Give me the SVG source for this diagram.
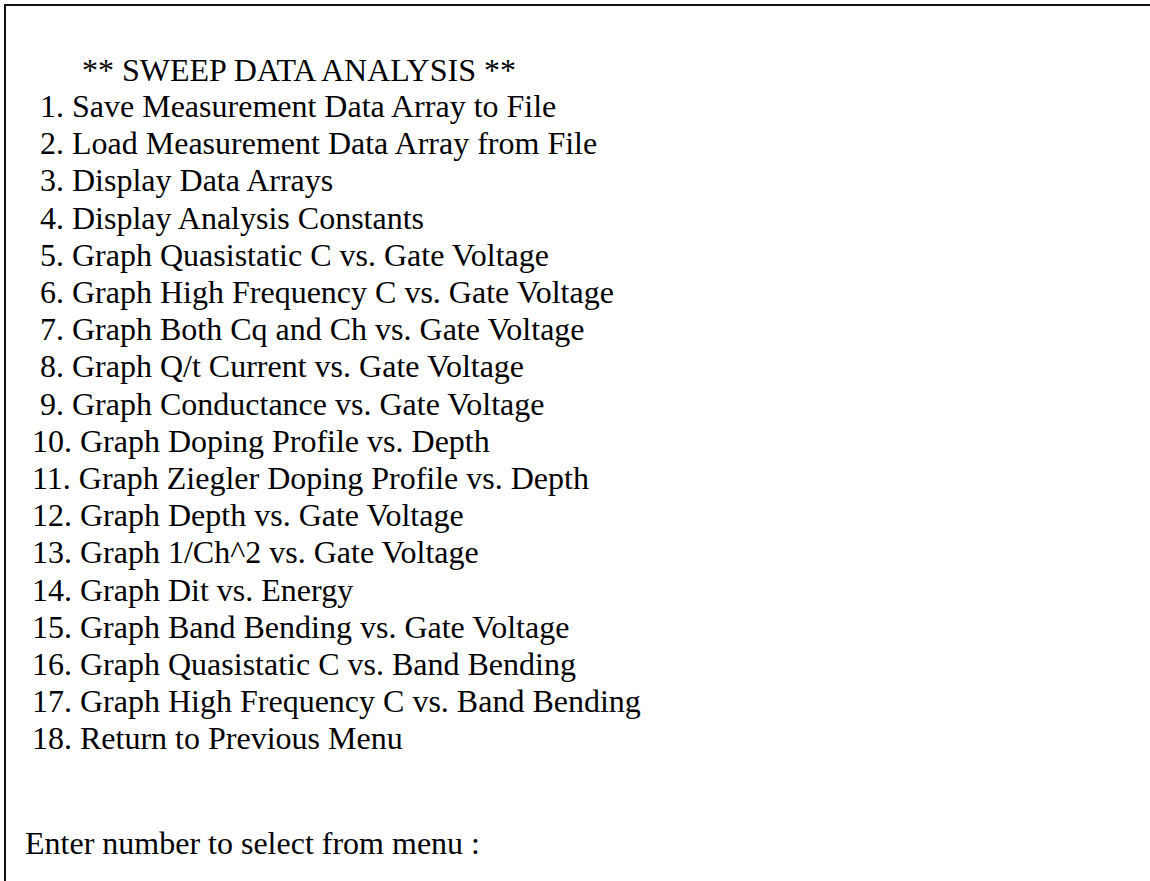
<svg xmlns="http://www.w3.org/2000/svg" width="1150" height="881" viewBox="0 0 1150 881">
<style>
.t{font-family:"Liberation Serif","Times New Roman",serif;font-size:32px;fill:#000}
.frame{fill:none;stroke:#111;stroke-width:2}
</style>
<rect width="1150" height="881" fill="#fff"/>
<g id="frame"><path class="frame" d="M5,881 V5 H1150"/></g>
<g id="title"><text class="t" x="82" y="81">** SWEEP DATA ANALYSIS **</text></g>
<g id="menu">
<text class="t" x="40" y="117">1. Save Measurement Data Array to File</text>
<text class="t" x="40" y="154.2">2. Load Measurement Data Array from File</text>
<text class="t" x="40" y="191.4">3. Display Data Arrays</text>
<text class="t" x="40" y="228.6">4. Display Analysis Constants</text>
<text class="t" x="40" y="265.8">5. Graph Quasistatic C vs. Gate Voltage</text>
<text class="t" x="40" y="303">6. Graph High Frequency C vs. Gate Voltage</text>
<text class="t" x="40" y="340.2">7. Graph Both Cq and Ch vs. Gate Voltage</text>
<text class="t" x="40" y="377.4">8. Graph Q/t Current vs. Gate Voltage</text>
<text class="t" x="40" y="414.6">9. Graph Conductance vs. Gate Voltage</text>
<text class="t" x="32" y="451.8">10. Graph Doping Profile vs. Depth</text>
<text class="t" x="32" y="489">11. Graph Ziegler Doping Profile vs. Depth</text>
<text class="t" x="32" y="526.2">12. Graph Depth vs. Gate Voltage</text>
<text class="t" x="32" y="563.4">13. Graph 1/Ch^2 vs. Gate Voltage</text>
<text class="t" x="32" y="600.6">14. Graph Dit vs. Energy</text>
<text class="t" x="32" y="637.8">15. Graph Band Bending vs. Gate Voltage</text>
<text class="t" x="32" y="675">16. Graph Quasistatic C vs. Band Bending</text>
<text class="t" x="32" y="712.2">17. Graph High Frequency C vs. Band Bending</text>
<text class="t" x="32" y="749.4">18. Return to Previous Menu</text>
</g>
<g id="prompt"><text class="t" x="25" y="854">Enter number to select from menu :</text></g>
</svg>
